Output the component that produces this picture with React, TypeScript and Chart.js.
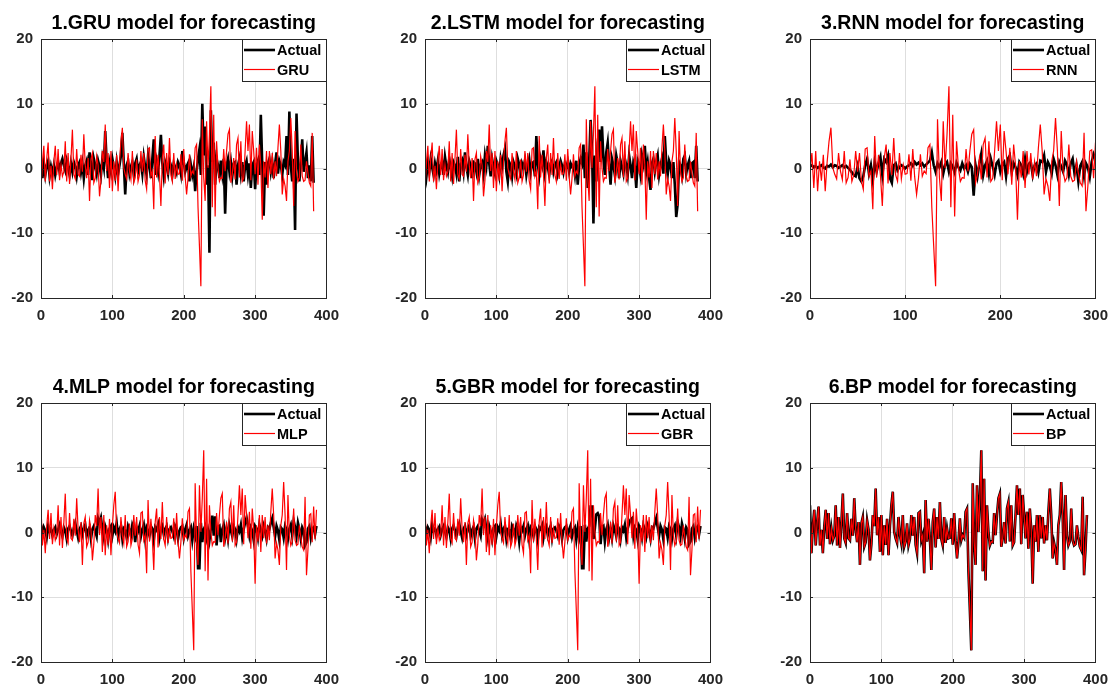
import React, { useEffect, useRef } from "react";
import { Chart, registerables } from "chart.js";

Chart.register(...registerables);

// Observed signal (red "model" curve in all panels; both curves in the BP panel), one sample every 2 steps
const modelSignal: number[] = [
  4.2, -3.2, 1.0, 3.5, -2.0, 1.5, 4.0, -2.0, 0.4, -3.2,
  1.0, 3.5, -1.0, 3.0, -1.8, 0.6, -1.2, -0.5, 4.2, -2.0,
  2.4, -2.4, 1.5, 6.0, -0.9, -1.6, 3.0, -0.9, -1.2, 2.1,
  -0.5, 5.3, 0.5, -1.5, 1.6, -5.0, 1.4, 2.4, -2.2, -1.5,
  1.9, 0.5, -4.3, -1.8, 2.7, 1.0, 6.8, -0.4, 2.4, -3.0,
  2.7, -3.5, 1.1, -1.9, 2.1, -3.5, 1.0, 4.2, 6.3, 0.1,
  -0.9, -1.6, 2.4, -0.4, -1.7, 2.7, -2.2, -1.4, 1.4, -2.0,
  -1.0, 2.7, -0.5, 2.4, -1.9, -3.2, 3.0, 3.2, -1.2, -0.4,
  -6.3, 5.0, -1.4, 2.1, -1.0, -5.8, 1.6, 3.7, -2.3, 2.4,
  -1.0, 4.7, -1.0, -2.0, 2.4, -1.6, 0.6, -0.9, -0.8, 2.2,
  -1.9, 3.0, -1.3, -4.0, -1.5, 2.2, -1.2, -0.4, -0.8, 3.2,
  3.7, -6.0, -12.0, -18.2, 7.6, -1.4, -5.0, 7.3, 0.1, 5.3,
  12.7, -6.0, 8.3, -7.4, 4.2, 0.1, -2.0, -1.4, -1.5, 3.0,
  -0.4, 2.7, 5.3, 6.0, -2.2, -0.9, 1.6, -1.7, 3.7, 4.7,
  -1.4, 4.2, -2.0, -1.5, 2.7, 7.3, 2.7, 6.8, -1.8, 5.8,
  2.7, -0.9, 3.2, -2.5, 3.7, 0.5, -7.9, 1.1, -1.4, 2.7,
  -3.0, 2.7, -0.9, 2.4, -1.7, 1.1, -1.2, 3.2, 6.8, 2.7,
  -4.0, -1.6, -2.7, -5.0, 1.1, 2.7, 7.8, 2.7, -5.8, 5.8,
  -0.4, -2.0, -1.4, 3.7, -1.2, -2.0, -1.8, 1.1, -0.7, -2.2,
  -2.7, 5.5, -6.6, -2.7, 2.7, 2.9, -1.5, 4.0, -1.0, 3.5,
];

const gruActual: number[] = [
  1.0, -1.5, 0.8, -1.0, 0.5, 1.2, -1.2, 0.3, -0.8, 0.5,
  -1.0, 0.2, 1.0, -0.5, 0.8, 1.5, 0.5, -0.3, 1.2, 0.2,
  -1.0, 0.8, -0.5, 1.0, 0.3, -1.2, 0.5, 1.0, -0.6, 0.8,
  -1.5, 0.5, 1.2, -1.0, 2.5, 0.8, -1.8, 1.5, 0.5, -0.8,
  1.2, 0.3, -1.0, 1.5, 0.2, 5.8, 1.0, -1.5, 0.8, -0.5,
  1.5, 0.2, -1.2, 1.0, -0.8, 0.5, 2.0, 5.5, 0.8, -4.0,
  0.5, 1.2, -0.8, 0.3, 1.0, -1.0, 0.8, 1.5, -0.5, 0.5,
  1.0, -0.8, 1.8, 0.2, -1.0, 2.0, 0.5, -1.5, 1.5, 4.5,
  -1.0, 1.0, -0.5, 2.0, 5.2, 0.8, -1.2, 1.0, 0.3, -0.8,
  1.2, 0.5, -1.0, 0.8, 0.2, -0.6, 1.0, 0.5, -0.8, 2.7,
  1.0, -0.5, 0.3, 0.8, -2.0, 0.5, -1.0, 0.2, -3.5, -0.5,
  1.5, 3.0, -1.0, 10.0, 2.0, 6.5, -2.5, 0.5, -13.0, 9.0,
  1.0, 4.0, -2.5, 1.5, 0.5, -1.5, 1.2, -0.8, 1.5, -7.0,
  0.5, 1.5, -0.5, 1.0, -1.2, 0.8, 1.0, -2.5, 0.5, 1.5,
  -0.8, 1.0, -2.0, 0.5, 1.2, -1.0, 0.8, -3.0, 0.5, 1.0,
  -3.2, 0.5, 1.2, -1.0, 8.3, 0.5, -7.3, 1.0, -2.5, 0.8,
  1.5, -0.5, 1.0, -1.5, 0.8, 2.5, -0.8, 1.2, 0.5, -1.0,
  1.0, 0.5, 5.0, -1.0, 8.8, 0.5, -2.0, 1.5, -9.5, 8.5,
  1.0, -2.0, 0.8, 4.5, -0.5, 1.0, 2.5, -1.5, 0.5, -2.0,
  5.0, -2.2,
];

const lstmActual: number[] = [
  0.8, -1.2, 1.0, -0.5, 1.5, 0.2, -1.0, 0.8, -0.3, 1.2,
  -0.8, 0.5, 1.0, -1.0, 1.8, 0.3, -0.6, 1.5, 0.2, -1.2,
  1.0, 0.5, -0.8, 1.8, -2.0, 0.6, 1.2, -0.5, 2.5, 0.3,
  -1.0, 1.2, 0.5, -1.5, 1.0, 0.8, -0.5, 1.5, -1.0, 0.6,
  1.0, -0.8, 2.0, 0.5, 3.5, 0.8, -1.2, 1.5, 0.2, -0.8,
  1.2, 0.5, -1.0, 1.5, 0.3, 2.0, 3.0, -0.5, -2.0, 1.0,
  0.5, -1.2, 1.0, 0.3, -0.8, 1.5, 0.6, -1.5, 0.8, 0.2,
  1.2, -1.0, 0.5, 1.5, -0.6, 0.8, 1.0, -1.2, 5.0, 0.8,
  -1.0, 1.5, 0.5, 2.8, -0.5, 1.0, 0.3, -1.0, 0.8, 1.2,
  -0.5, 0.6, 1.0, -0.8, 0.3, 1.2, 0.5, -0.6, 0.8, 0.2,
  1.0, -0.5, 0.8, 0.3, 0.6, -1.0, 1.2, -2.5, 0.5, 1.5,
  0.8, 3.7, -1.5, 2.5, -3.0, 1.0, 7.5, 3.0, -8.5, 2.0,
  -2.0, 4.0, 6.0, 1.0, 6.5, 1.5, -1.0, 2.5, 4.0, 0.5,
  -2.5, 1.5, 0.5, -1.0, 2.0, 0.8, -1.5, 1.2, 0.3, -0.8,
  1.5, 0.5, -1.0, 2.0, 0.5, -1.5, 1.0, 0.3, -3.0, 1.2,
  0.5, -1.0, 2.0, 0.8, 3.5, -0.5, 1.0, -1.5, -3.3, 0.8,
  1.5, -0.5, 1.0, 2.0, -1.0, 0.5, 1.5, -0.8, 5.0, 1.0,
  -1.0, 1.2, 0.5, -1.5, 1.0, -2.5, -7.5, -5.5, 1.0, 0.5,
  -1.0, 1.5, 2.0, -0.8, 0.5, 1.2, -1.5, 0.8, 1.0, -1.5,
  3.5, -2.0,
];

const rnnActual: number[] = [
  0.3, 0.5, 0.2, 0.4, 0.1, 0.3, 0.5, 0.2, 0.0, 0.4,
  0.3, 0.6, 0.2, 0.5, 0.4, 0.1, 0.3, 0.5, 0.2, 0.4,
  0.1, -0.2, -0.6, -1.0, -1.2, 0.3, -1.5, -2.0, -1.2, 0.5,
  1.5, -0.8, 0.5, -1.8, 1.0, -0.5, 0.8, 1.8, -1.0, 1.5,
  1.0, 2.0, -1.5, -2.2, 0.5, 0.8, -0.3, 0.2, 0.5, 0.3,
  0.0, 0.3, 0.5, 0.8, 0.4, 1.0, 0.6, 0.9, 0.5, 0.8,
  0.3, 0.6, 0.9, 1.2, 2.5, 0.5, -0.5, 0.8, 0.2, 1.0,
  -0.8, 0.6, 1.0, -0.5, 0.8, 0.3, -0.6, 0.9, 0.2, -0.3,
  0.8, 0.0, 0.5, -0.5, 0.7, 0.2, -4.2, 0.5, -1.2, 0.8,
  2.3, -1.0, 0.5, 1.2, -0.8, 1.5, 0.3, -1.0, 0.8, 1.2,
  -0.5, 0.6, 1.0, -1.2, 1.5, 2.0, -0.6, 0.8, 0.2, -1.0,
  1.0, 0.5, -0.8, 1.5, -0.5, 0.7, 1.0, -1.0, 0.5, 0.8,
  -0.6, 1.2, 1.0, 2.0, -0.5, 1.0, 0.4, -0.8, 1.5, 0.5,
  -1.0, 1.0, 0.3, -0.5, 1.2, 0.6, -1.0, 0.8, 1.5, -0.8,
  0.5, -2.0, 0.4, 1.0, -1.2, 0.8, 0.2, -1.3, 1.0, 2.2,
  1.5,
];

const mlpActual: number[] = [
  1.2, -0.5, 0.8, 0.3, -0.8, 1.0, 0.2, 0.6, -0.5, 0.4,
  0.8, -0.3, 0.5, 1.2, 0.2, -0.6, 0.8, 0.3, -1.0, 0.6,
  1.0, 0.2, -0.5, 0.7, 1.5, 0.3, -0.8, 0.5, 1.0, -0.3,
  0.6, 1.2, -0.5, 0.4, 0.8, -1.0, 0.5, 1.0, 0.2, -0.6,
  2.2, 1.5, 2.3, 0.5, -0.8, 1.0, 0.3, -1.2, 0.6, 1.0,
  -0.5, 0.8, 0.2, 1.5, -0.6, 0.5, 1.0, -1.0, 0.6, 0.3,
  -0.8, 1.0, 0.4, -0.5, 1.2, 0.6, -1.5, 0.8, 0.2, 1.0,
  -0.6, 0.5, 1.2, -1.0, 0.8, 0.3, -0.5, 1.0, 0.6, -1.2,
  0.8, 0.4, 1.2, -0.8, 0.5, 1.0, -0.3, 0.6, 1.0, -0.8,
  0.5, 0.8, 0.2, -0.6, 1.0, 0.5, -1.0, 0.3, 0.8, 1.0,
  -0.8, 0.5, 1.2, -0.5, 0.3, 0.8, -1.2, 0.6, -0.5, 1.0,
  -5.5, -5.5, 1.5, -1.5, 0.5, 1.0, -0.8, 0.3, -1.2, 0.6,
  2.6, -0.5, 2.5, -2.0, 0.8, 1.0, -1.5, 0.5, 1.2, -0.8,
  0.6, -1.0, 1.2, 0.3, -0.6, 1.0, 0.5, -1.0, 0.8, 0.2,
  1.2, -0.8, 0.5, 1.5, 2.3, 1.0, -0.5, 0.8, 0.3, -1.2,
  1.0, 0.6, -0.8, 1.2, 0.4, -0.5, 1.0, 0.2, -1.0, 0.8,
  0.5, 1.5, 2.2, 0.8, -0.6, 1.0, 0.3, -1.2, 0.8, 0.5,
  -0.8, 1.0, 0.4, -1.0, 0.6, 1.2, -0.5, 1.8, 0.8, -0.6,
  1.5, 0.5, -1.0, 0.8, 0.3, -2.0, -1.5, 0.6, 1.0, -0.8,
  0.5, 0.8, -0.3, 1.0,
];

const gbrActual: number[] = [
  1.0, -0.6, 0.8, 0.4, -0.8, 1.2, 0.3, 0.6, -0.5, 0.5,
  0.9, -0.4, 0.5, 1.0, 0.2, -0.7, 0.8, 0.4, -1.0, 0.6,
  1.1, 0.3, -0.6, 0.8, 1.4, 0.2, -0.8, 0.6, 1.0, -0.4,
  0.5, 1.1, -0.6, 0.4, 0.9, -1.0, 0.6, 1.0, 0.3, -0.5,
  2.0, 1.4, 2.1, 0.5, -0.9, 1.0, 0.2, -1.1, 0.7, 1.0,
  -0.6, 0.8, 0.3, 1.4, -0.5, 0.6, 1.0, -1.0, 0.5, 0.4,
  -0.9, 1.0, 0.5, -0.6, 1.1, 0.5, -1.4, 0.8, 0.3, 1.0,
  -0.5, 0.6, 1.1, -1.0, 0.8, 0.4, -0.6, 1.0, 0.5, -1.1,
  0.8, 0.5, 1.1, -0.8, 0.6, 1.0, -0.4, 0.5, 1.0, -0.9,
  0.6, 0.8, 0.3, -0.5, 1.0, 0.6, -1.0, 0.4, 0.8, 1.0,
  -0.7, 0.5, 1.1, -0.6, 0.4, 0.8, -1.1, 0.7, -0.6, 1.0,
  -5.5, -5.5, 1.2, -1.4, 0.6, 1.0, 4.0, 4.0, -1.0, 0.6,
  2.8, 3.0, 2.5, -1.8, 0.8, 1.0, -1.4, 0.5, 1.2, -0.8,
  0.6, -0.9, 1.1, 0.4, -0.6, 1.0, 0.6, -1.0, 0.8, 0.3,
  1.2, -0.8, 0.6, 1.4, 2.0, 2.2, -0.5, 0.8, 0.4, -1.1,
  1.0, 0.5, -0.8, 1.1, 0.5, -0.6, 1.0, 0.3, -1.0, 0.8,
  0.6, 1.4, 2.2, 0.8, -0.5, 1.0, 0.4, -1.1, 0.8, 0.6,
  -0.8, 1.0, 0.5, -1.0, 0.6, 1.1, -0.5, 1.6, 0.8, -0.6,
  1.4, 0.5, -1.0, 0.8, 0.4, -1.8, -1.4, 0.6, 1.0, -0.8,
  0.5, 0.9, -0.3, 1.0,
];

const titles: string[] = [
  "1.GRU model for forecasting",
  "2.LSTM model for forecasting",
  "3.RNN model for forecasting",
  "4.MLP model for forecasting",
  "5.GBR model for forecasting",
  "6.BP model for forecasting",
];
const modelNames: string[] = ["GRU", "LSTM", "RNN", "MLP", "GBR", "BP"];
const actualLabel = "Actual";
// where each panel's red curve starts within modelSignal, and how many samples it shows
const signalStart: number[] = [1, 1, 47, 6, 6, 0];
const signalLength: number[] = [192, 192, 151, 194, 194, 195];
const xMaxes: number[] = [400, 400, 300, 400, 400, 400];
const xTickStep = 100;
const yTickValues: number[] = [-20, -10, 0, 10, 20];
const sampleStep = 2;

const FONT = '"Liberation Sans", Arial, Helvetica, sans-serif';
const INK = "#262626";

const decorPlugin = {
  id: "matlabDecor",
  afterDraw(chart: any, _args: any, opts: any) {
    const { ctx, chartArea: a } = chart;
    const xs = chart.scales.x;
    const ys = chart.scales.y;
    ctx.save();
    ctx.strokeStyle = INK;
    ctx.lineWidth = 1;
    ctx.beginPath();
    xs.ticks.forEach((t: any) => {
      const px = Math.round(xs.getPixelForValue(t.value)) + 0.5;
      ctx.moveTo(px, a.bottom);
      ctx.lineTo(px, a.bottom - 3);
      ctx.moveTo(px, a.top);
      ctx.lineTo(px, a.top + 3);
    });
    ys.ticks.forEach((t: any) => {
      const py = Math.round(ys.getPixelForValue(t.value)) + 0.5;
      ctx.moveTo(a.left, py);
      ctx.lineTo(a.left + 3, py);
      ctx.moveTo(a.right, py);
      ctx.lineTo(a.right - 3, py);
    });
    ctx.stroke();
    ctx.strokeRect(Math.round(a.left) + 0.5, Math.round(a.top) + 0.5, Math.round(a.width), Math.round(a.height));

    // title
    ctx.fillStyle = "#000";
    ctx.font = `bold 19.5px ${FONT}`;
    ctx.textAlign = "center";
    ctx.textBaseline = "alphabetic";
    ctx.fillText(opts.title, (a.left + a.right) / 2, a.top - 10.5);

    // legend box (top-right, inside the axes)
    const ds = chart.data.datasets;
    const w = 84;
    const h = 42;
    const lx = Math.round(a.right) - w;
    const ly = Math.round(a.top);
    ctx.fillStyle = "#fff";
    ctx.fillRect(lx, ly, w, h);
    ctx.strokeStyle = INK;
    ctx.lineWidth = 1;
    ctx.strokeRect(lx + 0.5, ly + 0.5, w, h);
    const rows = [ds[1], ds[0]];
    const rowY = [ly + 11, ly + 30.5];
    ctx.font = `bold 14.5px ${FONT}`;
    ctx.textAlign = "left";
    ctx.textBaseline = "middle";
    rows.forEach((d: any, i: number) => {
      ctx.strokeStyle = d.borderColor;
      ctx.lineWidth = d.borderWidth;
      ctx.beginPath();
      ctx.moveTo(lx + 2, rowY[i]);
      ctx.lineTo(lx + 33, rowY[i]);
      ctx.stroke();
      ctx.fillStyle = "#000";
      ctx.fillText(d.label, lx + 35, rowY[i] + 1);
    });
    ctx.restore();
  },
};

function toPoints(values: number[]) {
  return values.map((v, i) => ({ x: i * sampleStep, y: v }));
}

function Panel({ idx, left, top }: { idx: number; left: number; top: number }) {
  const ref = useRef<HTMLCanvasElement | null>(null);
  useEffect(() => {
    const canvas = ref.current;
    if (!canvas) return;
    const red = modelSignal.slice(signalStart[idx], signalStart[idx] + signalLength[idx]);
    const actualSets = [gruActual, lstmActual, rnnActual, mlpActual, gbrActual, red];
    const black = actualSets[idx];
    const tickFont = { family: FONT, size: 15, weight: "bold" as const };
    const chart = new Chart(canvas, {
      type: "line",
      data: {
        datasets: [
          {
            label: modelNames[idx],
            data: toPoints(red),
            borderColor: "#ff0000",
            borderWidth: 1.2,
            pointRadius: 0,
            tension: 0,
            order: 1,
          },
          {
            label: actualLabel,
            data: toPoints(black),
            borderColor: "#000000",
            borderWidth: 2.6,
            pointRadius: 0,
            tension: 0,
            order: 2,
          },
        ],
      },
      options: {
        responsive: false,
        animation: false,
        events: [],
        layout: { padding: { top: 39, right: 16, left: 0, bottom: 0 } },
        plugins: {
          legend: { display: false },
          title: { display: false },
          tooltip: { enabled: false },
          matlabDecor: { title: titles[idx] },
        } as any,
        scales: {
          x: {
            type: "linear",
            min: 0,
            max: xMaxes[idx],
            border: { display: false },
            grid: { color: "#dedede", lineWidth: 1, drawTicks: false },
            ticks: { stepSize: xTickStep, color: INK, font: tickFont, padding: 9, maxRotation: 0 },
            afterFit: (s: any) => {
              s.height = 26;
            },
          },
          y: {
            type: "linear",
            min: yTickValues[0],
            max: yTickValues[yTickValues.length - 1],
            border: { display: false },
            grid: { color: "#dedede", lineWidth: 1, drawTicks: false },
            ticks: { stepSize: 10, color: INK, font: tickFont, padding: 8 },
            afterFit: (s: any) => {
              s.width = 41;
            },
          },
        },
      },
      plugins: [decorPlugin],
    });
    return () => chart.destroy();
  }, [idx]);
  return (
    <canvas
      ref={ref}
      width={348}
      height={324}
      style={{ position: "absolute", left, top, width: 348, height: 324 }}
    />
  );
}

export default function App() {
  const lefts = [0, 384, 769];
  const tops = [0, 364];
  return (
    <div
      style={{
        position: "absolute",
        left: 0,
        top: 0,
        width: 1115,
        height: 685,
        overflow: "hidden",
        background: "#fff",
      }}
    >
      {titles.map((_, i) => (
        <Panel key={i} idx={i} left={lefts[i % 3]} top={tops[Math.floor(i / 3)]} />
      ))}
    </div>
  );
}
